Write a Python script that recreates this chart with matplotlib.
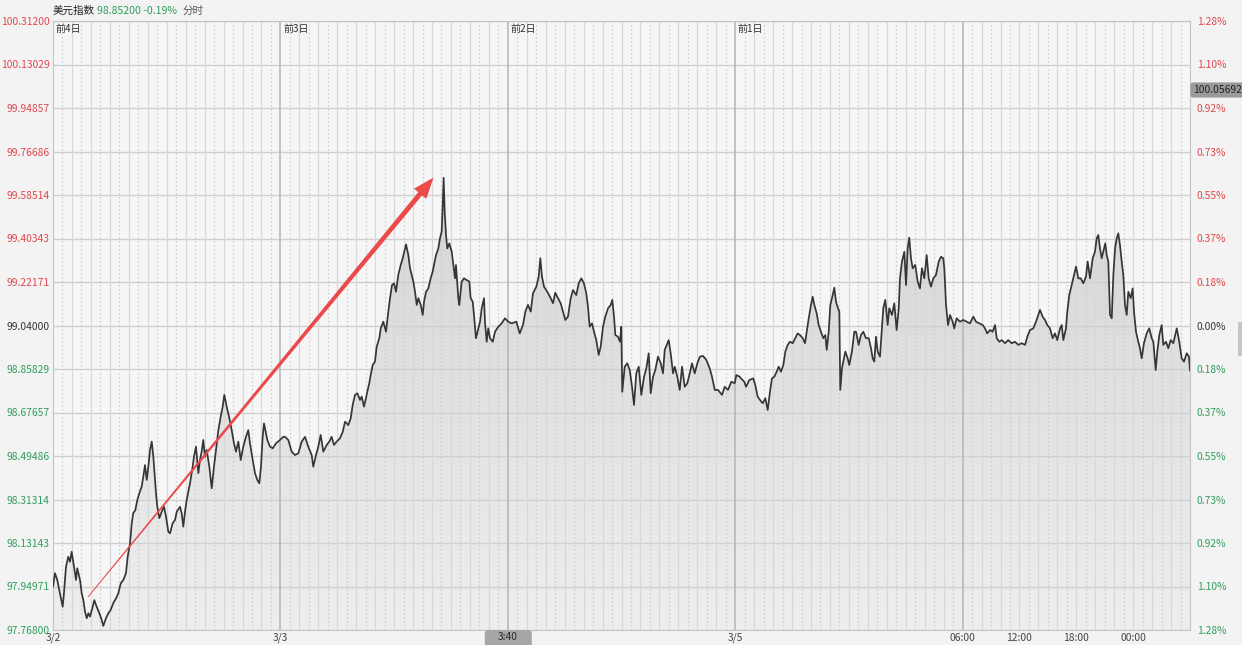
import matplotlib
matplotlib.use("Agg")
import matplotlib.pyplot as plt
import numpy as np
from matplotlib.colors import LinearSegmentedColormap
from matplotlib.patches import Polygon, Rectangle, FancyBboxPatch

plt.rcParams["font.family"] = ["Noto Sans CJK SC", "DejaVu Sans"]

# --- data: US dollar index, 5 trading days of 分时 (hours from start, price) ---
DAY1_H = [0.00, 0.21, 0.45, 0.74, 1.02, 1.16, 1.37, 1.61, 1.79, 1.97, 2.22, 2.43, 2.56, 2.85, 3.03,
          3.20, 3.38, 3.56, 3.73, 3.91, 4.19, 4.36, 4.61, 4.89, 5.14, 5.31, 5.59, 5.84, 6.09, 6.36,
          6.65, 6.89, 7.15, 7.42, 7.70, 7.88, 8.13, 8.31, 8.47, 8.69, 8.90, 9.11, 9.36, 9.53, 9.71,
          9.89, 10.06, 10.24, 10.42, 10.59, 10.77, 10.87, 11.01, 11.22, 11.47, 11.72, 11.93, 12.17,
          12.35, 12.63, 12.88, 13.06, 13.40, 13.58, 13.75, 13.93, 14.11, 14.28, 14.46, 14.74, 14.88,
          15.09, 15.34, 15.51, 15.69, 15.86, 16.04, 16.22, 16.50, 16.75, 16.99, 17.20, 17.45, 17.70,
          17.91, 18.08, 18.33, 18.58, 18.86, 19.10, 19.31, 19.56, 19.81, 20.08, 20.37, 20.61, 20.79,
          21.08, 21.32, 21.56, 21.77, 21.95, 22.13, 22.27, 22.48, 22.62, 22.90, 23.19, 23.54, 23.96]
DAY1_P = [97.949, 98.005, 97.977, 97.921, 97.865, 97.923, 98.032, 98.074, 98.053, 98.095, 98.032,
          97.977, 98.026, 97.977, 97.921, 97.893, 97.844, 97.817, 97.838, 97.824, 97.865, 97.893,
          97.865, 97.838, 97.810, 97.785, 97.817, 97.838, 97.852, 97.880, 97.900, 97.921, 97.963,
          97.977, 98.005, 98.074, 98.130, 98.214, 98.256, 98.269, 98.311, 98.339, 98.367, 98.408,
          98.457, 98.395, 98.450, 98.520, 98.555, 98.492, 98.395, 98.340, 98.283, 98.235, 98.262,
          98.283, 98.241, 98.179, 98.172, 98.214, 98.228, 98.262, 98.283, 98.256, 98.200, 98.262,
          98.311, 98.346, 98.381, 98.450, 98.492, 98.534, 98.423, 98.478, 98.513, 98.562, 98.492,
          98.520, 98.450, 98.360, 98.450, 98.520, 98.603, 98.659, 98.701, 98.750, 98.701, 98.659,
          98.603, 98.548, 98.513, 98.555, 98.478, 98.534, 98.575, 98.603, 98.548, 98.478, 98.423,
          98.395, 98.381, 98.450, 98.575, 98.631, 98.590, 98.562, 98.534, 98.527, 98.548, 98.562]

DAY2_H = [24.31, 24.49, 24.83, 25.19, 25.54, 25.89, 26.25, 26.60, 26.94, 27.30, 27.47, 27.76, 28.00,
          28.25, 28.53, 28.89, 29.16, 29.41, 29.66, 29.94, 30.29, 30.58, 30.82, 31.17, 31.42, 31.63,
          31.87, 32.12, 32.40, 32.58, 32.82, 33.03, 33.17, 33.38, 33.53, 33.74, 33.98, 34.16, 34.44,
          34.59, 34.86, 35.15, 35.39, 35.57, 35.78, 35.99, 36.20, 36.44, 36.70, 36.91, 37.04, 37.26,
          37.50, 37.68, 37.86, 38.03, 38.21, 38.39, 38.56, 38.81, 39.02, 39.16, 39.37, 39.61, 39.86,
          40.07, 40.21, 40.42, 40.67, 40.84, 41.02, 41.13, 41.23, 41.34, 41.48, 41.61, 41.83, 42.08,
          42.25, 42.43, 42.53, 42.78, 42.88, 43.13, 43.38, 43.66, 43.94, 44.08, 44.30, 44.43, 44.64,
          44.89, 45.07, 45.25, 45.49, 45.59, 45.77, 45.94, 46.12, 46.41, 46.65, 47.00, 47.35, 47.70,
          48.05]
DAY2_P = [98.575, 98.575, 98.562, 98.513, 98.499, 98.506, 98.555, 98.575, 98.534, 98.499, 98.450,
          98.499, 98.534, 98.583, 98.513, 98.541, 98.555, 98.575, 98.541, 98.555, 98.569, 98.596,
          98.638, 98.624, 98.652, 98.708, 98.750, 98.757, 98.729, 98.743, 98.701, 98.736, 98.763,
          98.799, 98.833, 98.875, 98.889, 98.951, 98.987, 99.028, 99.056, 99.014, 99.098, 99.154,
          99.209, 99.216, 99.181, 99.251, 99.293, 99.321, 99.342, 99.379, 99.335, 99.279, 99.251,
          99.223, 99.181, 99.126, 99.154, 99.126, 99.084, 99.139, 99.181, 99.195, 99.237, 99.265,
          99.293, 99.334, 99.362, 99.404, 99.432, 99.543, 99.657, 99.515, 99.418, 99.362, 99.383,
          99.348, 99.293, 99.237, 99.293, 99.154, 99.126, 99.223, 99.237, 99.230, 99.223, 99.154,
          99.139, 99.084, 98.987, 99.028, 99.056, 99.112, 99.154, 99.056, 98.972, 99.028, 98.987,
          98.972, 99.014, 99.035, 99.049, 99.070, 99.056]

DAY3_H = [48.41, 48.90, 49.26, 49.60, 49.85, 50.13, 50.42, 50.66, 51.01, 51.26, 51.43, 51.61, 51.82,
          52.17, 52.53, 52.77, 53.01, 53.30, 53.58, 53.83, 54.07, 54.35, 54.64, 54.88, 55.23, 55.48,
          55.76, 56.04, 56.28, 56.46, 56.64, 56.89, 57.10, 57.34, 57.59, 57.80, 58.05, 58.29, 58.58,
          58.86, 59.03, 59.21, 59.35, 59.63, 59.84, 59.98, 60.08, 60.34, 60.61, 60.87, 61.11, 61.32,
          61.56, 61.82, 62.09, 62.38, 62.62, 62.87, 63.08, 63.33, 63.57, 63.85, 64.14, 64.38, 64.56,
          64.84, 64.98, 65.19, 65.44, 65.62, 65.89, 66.14, 66.39, 66.67, 66.95, 67.20, 67.44, 67.73,
          68.00, 68.28, 68.60, 68.95, 69.31, 69.55, 69.84, 70.18, 70.61, 70.89, 71.24, 71.59, 71.95]
DAY3_P = [99.049, 99.056, 99.007, 99.042, 99.098, 99.126, 99.098, 99.175, 99.202, 99.244, 99.321,
          99.244, 99.202, 99.181, 99.154, 99.133, 99.177, 99.154, 99.133, 99.098, 99.063, 99.077,
          99.154, 99.188, 99.167, 99.216, 99.237, 99.216, 99.175, 99.119, 99.035, 99.049, 99.014,
          98.979, 98.917, 98.951, 99.035, 99.077, 99.112, 99.126, 99.147, 99.077, 99.000, 98.993,
          98.972, 99.035, 98.763, 98.868, 98.882, 98.854, 98.784, 98.708, 98.840, 98.868, 98.750,
          98.826, 98.861, 98.924, 98.757, 98.826, 98.854, 98.910, 98.882, 98.840, 98.938, 98.966,
          98.979, 98.924, 98.840, 98.868, 98.826, 98.771, 98.868, 98.784, 98.799, 98.840, 98.882,
          98.840, 98.882, 98.910, 98.913, 98.896, 98.861, 98.826, 98.771, 98.771, 98.750, 98.784,
          98.771, 98.805, 98.799]

DAY4_H = [72.12, 72.48, 72.61, 72.96, 73.14, 73.49, 73.91, 74.12, 74.37, 74.62, 74.90, 75.18, 75.43,
          75.67, 75.88, 76.13, 76.38, 76.59, 76.83, 77.08, 77.29, 77.54, 77.78, 78.07, 78.34, 78.59,
          78.84, 79.13, 79.37, 79.55, 79.76, 80.00, 80.18, 80.35, 80.60, 80.81, 81.05, 81.30, 81.51,
          81.66, 81.87, 82.04, 82.29, 82.46, 82.64, 82.85, 82.99, 83.09, 83.27, 83.41, 83.62, 83.87,
          84.04, 84.32, 84.57, 84.75, 85.03, 85.27, 85.52, 85.80, 86.09, 86.33, 86.51, 86.68, 86.86,
          87.04, 87.28, 87.49, 87.63, 87.84, 88.09, 88.26, 88.55, 88.79, 89.04, 89.26, 89.39, 89.60,
          89.85, 90.03, 90.20, 90.37, 90.55, 90.73, 91.00, 91.26, 91.50, 91.71, 91.96, 92.21, 92.42,
          92.66, 92.91, 93.19, 93.48, 93.72, 93.96, 94.07, 94.25, 94.46, 94.67, 94.95, 95.12, 95.37,
          95.72]
DAY4_P = [98.833, 98.826, 98.819, 98.805, 98.784, 98.812, 98.819, 98.791, 98.743, 98.729, 98.715,
          98.736, 98.687, 98.763, 98.819, 98.826, 98.847, 98.868, 98.847, 98.875, 98.931, 98.959,
          98.972, 98.966, 98.987, 99.007, 99.000, 98.987, 98.966, 99.014, 99.070, 99.126, 99.160,
          99.126, 99.091, 99.042, 99.014, 98.987, 99.000, 98.938, 99.014, 99.126, 99.167, 99.198,
          99.139, 99.112, 99.098, 98.771, 98.861, 98.889, 98.931, 98.903, 98.875, 98.931, 99.014,
          99.014, 98.959, 99.000, 99.014, 98.987, 98.987, 98.945, 98.903, 98.889, 98.993, 98.931,
          98.910, 99.028, 99.112, 99.147, 99.042, 99.112, 99.084, 99.133, 99.021, 99.112, 99.237,
          99.307, 99.348, 99.209, 99.362, 99.407, 99.321, 99.279, 99.293, 99.223, 99.195, 99.279,
          99.237, 99.334, 99.237, 99.202, 99.237, 99.251, 99.307, 99.327, 99.321, 99.279, 99.126,
          99.042, 99.084, 99.056, 99.028, 99.070, 99.056]

DAY5_H = [96.07, 96.43, 96.78, 97.13, 97.41, 97.76, 98.12, 98.36, 98.60, 98.89, 99.17, 99.42, 99.60,
          99.87, 100.13, 100.48, 100.82, 101.18, 101.53, 101.88, 102.24, 102.59, 102.83, 103.11,
          103.46, 103.75, 103.99, 104.17, 104.45, 104.70, 104.94, 105.22, 105.51, 105.75, 105.99,
          106.28, 106.46, 106.63, 106.91, 107.05, 107.26, 107.51, 107.76, 107.97, 108.21, 108.47,
          108.74, 109.02, 109.20, 109.45, 109.73, 109.97, 110.15, 110.32, 110.50, 110.68, 110.85,
          111.06, 111.21, 111.38, 111.56, 111.74, 111.91, 112.09, 112.26, 112.43, 112.61, 112.79,
          112.96, 113.14, 113.32, 113.49, 113.74, 113.95, 114.09, 114.30, 114.54, 114.72, 114.90,
          115.14, 115.43, 115.70, 115.96, 116.13, 116.38, 116.55, 116.76, 117.01, 117.18, 117.47,
          117.71, 117.96, 118.24, 118.60, 118.87, 119.12, 119.37, 119.65, 119.89, 120.00]
DAY5_P = [99.063, 99.056, 99.049, 99.077, 99.056, 99.049, 99.042, 99.028, 99.007, 99.021, 99.014,
          99.042, 98.987, 98.972, 98.979, 98.966, 98.979, 98.966, 98.972, 98.959, 98.966, 98.959,
          98.993, 99.021, 99.028, 99.056, 99.084, 99.105, 99.077, 99.063, 99.042, 99.028, 98.987,
          99.007, 98.979, 99.028, 99.042, 98.979, 99.028, 99.098, 99.167, 99.209, 99.251, 99.286,
          99.237, 99.237, 99.216, 99.244, 99.307, 99.237, 99.321, 99.348, 99.404, 99.418, 99.362,
          99.321, 99.348, 99.383, 99.334, 99.307, 99.084, 99.070, 99.251, 99.362, 99.404, 99.425,
          99.376, 99.307, 99.251, 99.126, 99.084, 99.181, 99.154, 99.195, 99.098, 99.014, 98.972,
          98.945, 98.903, 98.966, 99.007, 99.028, 98.987, 98.972, 98.854, 98.931, 99.000, 99.042,
          98.959, 98.972, 98.945, 98.979, 98.966, 99.028, 98.972, 98.903, 98.889, 98.924, 98.910,
          98.852]

PREV_CLOSE = 99.04
Y_MIN, Y_MAX = 97.768, 100.312
N_YTICKS = 15
DAY_STARTS = [0, 24, 48, 72]
DAY_TOP_LABELS = ["前4日", "前3日", "前2日", "前1日"]
X_TICKS = [0, 24, 72, 96, 102, 108, 114]
X_TICK_LABELS = ["3/2", "3/3", "3/5", "06:00", "12:00", "18:00", "00:00"]
CURSOR_TIME, CURSOR_LABEL = 48, "3:40"
CURSOR_PRICE_LABEL = "100.05692"
LAST_PRICE, LAST_CHG = "98.85200", "-0.19%"
ARROW_START = (3.69, 97.906)
ARROW_END = (40.16, 99.658)

RED = "#e0474c"
GREEN = "#2f9e5c"
NEUTRAL = "#333333"
BG = "#f3f3f3"

t = np.array(DAY1_H + DAY2_H + DAY3_H + DAY4_H + DAY5_H)
p = np.array(DAY1_P + DAY2_P + DAY3_P + DAY4_P + DAY5_P)

W, H, DPI = 1242, 645, 100
fig = plt.figure(figsize=(W / DPI, H / DPI), dpi=DPI, facecolor=BG)
ax = fig.add_axes([53 / W, 15 / H, (1190 - 53) / W, (630 - 21) / H])
ax.set_facecolor("#f6f6f6")

# gradient area under the line
fill_cmap = LinearSegmentedColormap.from_list("fill", ["#eeeeee", "#cdcdcd"])
area = ax.fill_between(t, p, Y_MIN, color="none", lw=0)
grad = np.linspace(1, 0, 256).reshape(-1, 1)
img = ax.imshow(grad, extent=[0, 120, Y_MIN, Y_MAX], aspect="auto", cmap=fill_cmap,
                origin="upper", zorder=1, vmin=0, vmax=1)
img.set_clip_path(area.get_paths()[0], transform=ax.transData)

# grid
yticks = np.linspace(Y_MIN, Y_MAX, N_YTICKS)
for v in yticks:
    ax.axhline(v, color="#d0d0d0", lw=1.0, zorder=2)
for h in range(1, 120):
    if h % 24 == 0:
        continue
    if h % 2 == 0:
        ax.axvline(h, color="#d8d8d8", lw=0.9, zorder=2)
    else:
        ax.axvline(h, color="#cbcbcb", lw=0.9, ls=(0, (1.2, 2.0)), zorder=2)
for h in [24, 48, 72, 96]:
    ax.axvline(h, color="#b4b4b4", lw=1.1, zorder=2)

ax.plot(t, p, color="#363636", lw=1.25, zorder=4)

ax.set_xlim(0, 120)
ax.set_ylim(Y_MIN, Y_MAX)
for s in ax.spines.values():
    s.set_color("#c4c4c4")

# left price axis
ax.set_yticks(yticks)
ax.set_yticklabels([f"{v:.5f}" for v in yticks])
ax.tick_params(axis="y", length=0, pad=2.5, labelsize=7.4)
for lab, v in zip(ax.get_yticklabels(), yticks):
    lab.set_color(RED if v > PREV_CLOSE + 1e-6 else (GREEN if v < PREV_CLOSE - 1e-6 else NEUTRAL))

# right percent axis
ax2 = ax.twinx()
ax2.set_ylim(Y_MIN, Y_MAX)
ax2.set_yticks(yticks)
ax2.set_yticklabels([f"{abs(v - PREV_CLOSE) / PREV_CLOSE * 100:.2f}%" for v in yticks])
ax2.tick_params(axis="y", length=0, pad=5, labelsize=7.4)
for lab, v in zip(ax2.get_yticklabels(), yticks):
    lab.set_color(RED if v > PREV_CLOSE + 1e-6 else (GREEN if v < PREV_CLOSE - 1e-6 else NEUTRAL))
for s in ax2.spines.values():
    s.set_visible(False)

# x axis labels
ax.set_xticks(X_TICKS)
ax.set_xticklabels(X_TICK_LABELS)
ax.tick_params(axis="x", length=0, pad=2, labelsize=7.4, labelcolor="#444444")

for h, lab in zip(DAY_STARTS, DAY_TOP_LABELS):
    ax.annotate(lab, (h, Y_MAX), xytext=(2, -2), textcoords="offset points",
                ha="left", va="top", fontsize=7.2, color=NEUTRAL, zorder=6)

# cursor time label at bottom
xc = ax.transData.transform((CURSOR_TIME, Y_MIN))[0]
fig.patches.append(FancyBboxPatch(((xc - 23) / W, -4 / H), 47 / W, 19 / H,
                                  boxstyle="round,pad=0,rounding_size=0.004",
                                  transform=fig.transFigure, fc="#a6a6a6", ec="none"))
fig.text(xc / W, 7.5 / H, CURSOR_LABEL, ha="center", va="center", fontsize=7.4, color="#2a2a2a")

# cursor price label on the right edge
fig.text(1193 / W, 1 - 90 / H, CURSOR_PRICE_LABEL, ha="left", va="center", fontsize=7.4,
         color="#222222",
         bbox=dict(boxstyle="round,pad=0.25,rounding_size=0.25", fc="#9a9a9a", ec="none"))
fig.patches.append(Rectangle((1238 / W, 1 - 356 / H), 4 / W, 34 / H,
                             transform=fig.transFigure, fc="#c6c6c6", ec="none"))

# title row
fig.text(53 / W, 1 - 11 / H, "美元指数", ha="left", va="center", fontsize=7.6, color="#222222")
fig.text(97 / W, 1 - 11 / H, f"{LAST_PRICE} {LAST_CHG}", ha="left", va="center", fontsize=7.6,
         color=GREEN)
fig.text(183 / W, 1 - 11 / H, "分时", ha="left", va="center", fontsize=7.6, color="#555555")

# tapered red arrow
p0 = ax.transData.transform(ARROW_START)
p1 = ax.transData.transform(ARROW_END)
d = p1 - p0
u = d / np.hypot(*d)
n = np.array([-u[1], u[0]])
head_len, head_w, w0, w1 = 21, 16, 0.9, 5.0
base = p1 - u * head_len
verts = np.array([p0 + n * w0 / 2, base + n * w1 / 2, base + n * head_w / 2, p1,
                  base - n * head_w / 2, base - n * w1 / 2, p0 - n * w0 / 2])
ax.add_patch(Polygon(ax.transData.inverted().transform(verts), closed=True,
                     fc="#ea4a4a", ec="none", zorder=5))

fig.savefig("out.png", dpi=DPI, facecolor=BG)
